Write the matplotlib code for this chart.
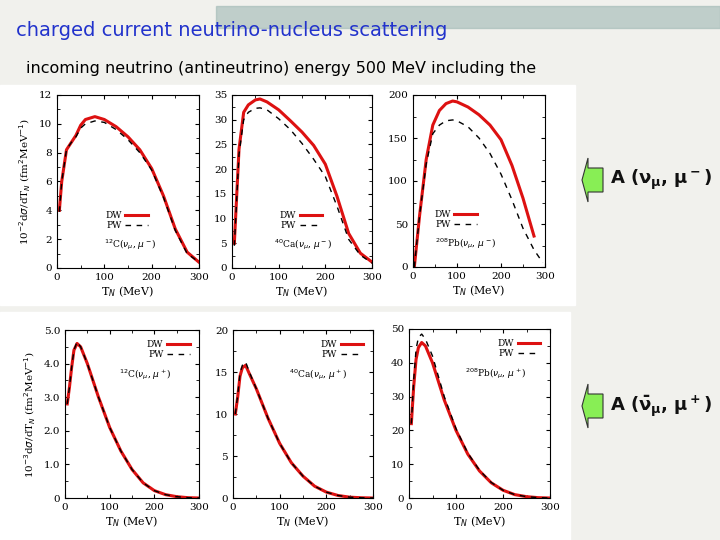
import numpy as np
import matplotlib.pyplot as plt
from matplotlib.patches import Rectangle, Polygon
from matplotlib.ticker import AutoMinorLocator

# ---- data ----
# neutrino (top row)
t_c = [5, 10, 20, 30, 40, 50, 60, 80, 100, 125, 150, 175, 200, 225, 250, 275, 300]
c_dw = [4.0, 6.0, 8.2, 8.7, 9.2, 9.9, 10.3, 10.5, 10.3, 9.8, 9.1, 8.2, 6.9, 5.0, 2.7, 1.1, 0.4]
c_pw = [3.9, 6.0, 8.2, 8.7, 9.1, 9.7, 10.0, 10.2, 10.1, 9.6, 8.9, 8.0, 6.8, 4.9, 2.6, 1.0, 0.4]

t_ca = [5, 15, 25, 35, 50, 60, 75, 100, 125, 150, 175, 200, 225, 250, 275, 300]
ca_dw = [5.0, 24.0, 31.5, 33.0, 34.0, 34.2, 33.6, 32.0, 29.8, 27.5, 24.8, 21.0, 14.5, 7.0, 3.0, 1.2]
ca_pw = [4.5, 23.0, 30.0, 31.5, 32.3, 32.4, 32.0, 30.2, 28.0, 25.2, 22.0, 18.5, 12.5, 5.8, 2.6, 1.0]

t_pb = [3, 15, 30, 45, 60, 75, 90, 100, 125, 150, 175, 200, 225, 250, 275]
pb_dw = [0, 60, 125, 165, 182, 190, 193, 192, 186, 177, 165, 148, 118, 80, 36]
t_pb2 = [3, 15, 30, 45, 60, 75, 90, 100, 125, 150, 175, 200, 225, 250, 275, 295]
pb_pw = [0, 60, 120, 155, 165, 170, 171, 170, 163, 150, 132, 108, 78, 45, 20, 5]

# antineutrino (bottom row)
tb = [5, 10, 15, 20, 27, 35, 50, 75, 100, 125, 150, 175, 200, 225, 250, 275, 300]
cb_dw = [2.8, 3.3, 3.9, 4.4, 4.6, 4.5, 4.0, 3.0, 2.1, 1.4, 0.85, 0.45, 0.22, 0.1, 0.04, 0.01, 0.0]
cb_pw = [2.8, 3.3, 3.9, 4.4, 4.65, 4.5, 4.0, 3.0, 2.1, 1.4, 0.85, 0.45, 0.22, 0.1, 0.04, 0.01, 0.0]
cab_dw = [10.0, 12.0, 14.5, 15.5, 15.8, 14.8, 13.0, 9.5, 6.5, 4.2, 2.6, 1.4, 0.7, 0.3, 0.1, 0.03, 0.0]
cab_pw = [10.0, 12.2, 14.8, 15.8, 16.2, 15.0, 13.0, 9.5, 6.5, 4.2, 2.6, 1.4, 0.7, 0.3, 0.1, 0.03, 0.0]
pbb_dw = [22.0, 33.0, 41.0, 44.5, 46.0, 45.0, 40.0, 29.0, 20.0, 13.0, 8.0, 4.5, 2.3, 1.0, 0.4, 0.1, 0.0]
pbb_pw = [22.0, 35.0, 44.0, 47.5, 48.5, 47.0, 42.0, 30.0, 20.5, 13.3, 8.2, 4.6, 2.3, 1.0, 0.4, 0.1, 0.0]

W, H = 720, 540
fig = plt.figure(figsize=(7.2, 5.4), dpi=100)
fig.patch.set_facecolor('#f1f1ed')

def box(x0, y0, x1, y1):
    return [x0 / W, 1 - y1 / H, (x1 - x0) / W, (y1 - y0) / H]

# header band and white picture areas (behind the axes)
for r in [Rectangle((0.3, 1 - 28 / H), 0.7, 22 / H, color='#9fb8b4', alpha=0.6),
          Rectangle((0, 1 - 305 / H), 575 / W, 220 / H, color='white'),
          Rectangle((0, 0), 570 / W, 1 - 312 / H, color='white')]:
    r.set_transform(fig.transFigure)
    r.set_zorder(-5)
    fig.patches.append(r)

fig.text(16 / W, 1 - 31 / H, 'charged current neutrino-nucleus scattering', color='#2233cc',
         fontsize=14, va='center')
fig.text(26 / W, 1 - 68 / H, 'incoming neutrino (antineutrino) energy 500 MeV including the',
         fontsize=11.5, va='center')

top_leg = ('upper left', (0.3, 0.36))
bot_leg = ('upper right', (0.97, 0.97))
panels = [
    (box(57, 95, 199, 268), t_c, c_dw, t_c, c_pw, (0, 12), [0, 2, 4, 6, 8, 10, 12], None,
     r'$^{12}$C($\nu_\mu$, $\mu^-$)', (0.33, 0.12), top_leg),
    (box(232, 95, 372, 268), t_ca, ca_dw, t_ca, ca_pw, (0, 35), [0, 5, 10, 15, 20, 25, 30, 35], None,
     r'$^{40}$Ca($\nu_\mu$, $\mu^-$)', (0.3, 0.12), top_leg),
    (box(413, 95, 545, 267), t_pb, pb_dw, t_pb2, pb_pw, (0, 200), [0, 50, 100, 150, 200], None,
     r'$^{208}$Pb($\nu_\mu$, $\mu^-$)', (0.17, 0.12), ('upper left', (0.12, 0.36))),
    (box(65, 330, 199, 498), tb, cb_dw, tb, cb_pw, (0, 5), [0, 1, 2, 3, 4, 5],
     ['0', '1.0', '2.0', '3.0', '4.0', '5.0'], r'$^{12}$C($\nu_\mu$, $\mu^+$)', (0.4, 0.72), bot_leg),
    (box(233, 330, 373, 498), tb, cab_dw, tb, cab_pw, (0, 20), [0, 5, 10, 15, 20], None,
     r'$^{40}$Ca($\nu_\mu$, $\mu^+$)', (0.4, 0.72), bot_leg),
    (box(409, 329, 550, 498), tb, pbb_dw, tb, pbb_pw, (0, 50), [0, 10, 20, 30, 40, 50], None,
     r'$^{208}$Pb($\nu_\mu$, $\mu^+$)', (0.4, 0.72), bot_leg),
]

for i, (pos, x1, y1, x2, y2, ylim, yt, ytl, lab, labpos, leg) in enumerate(panels):
    ax = fig.add_axes(pos)
    ax.plot(x1, y1, color='#dd1111', lw=2.2, label='DW')
    ax.plot(x2, y2, color='black', lw=1.0, ls=(0, (4, 4)), label='PW')
    ax.set_xlim(0, 300)
    ax.set_ylim(*ylim)
    ax.set_xticks([0, 100, 200, 300])
    ax.set_yticks(yt)
    if ytl:
        ax.set_yticklabels(ytl)
    ax.xaxis.set_minor_locator(AutoMinorLocator(2))
    ax.yaxis.set_minor_locator(AutoMinorLocator(2))
    ax.tick_params(which='both', direction='in', top=True, right=True, labelsize=7.5, length=3)
    ax.tick_params(which='minor', length=2)
    for lbl in ax.get_xticklabels() + ax.get_yticklabels():
        lbl.set_fontfamily('DejaVu Serif')
    ax.set_xlabel(r'T$_N$ (MeV)', fontsize=8, family='DejaVu Serif', labelpad=2)
    ax.text(labpos[0], labpos[1], lab, transform=ax.transAxes, fontsize=6.5, family='DejaVu Serif')
    ax.legend(loc=leg[0], bbox_to_anchor=leg[1], frameon=False,
              markerfirst=False, handlelength=2.5, borderpad=0.1, labelspacing=0.1,
              handletextpad=0.4, prop={'family': 'DejaVu Serif', 'size': 6.5})
    if i == 0:
        ax.set_ylabel(r'10$^{-2}$d$\sigma$/dT$_N$ (fm$^2$MeV$^{-1}$)', fontsize=7.5, family='DejaVu Serif')
    if i == 3:
        ax.set_ylabel(r'10$^{-3}$d$\sigma$/dT$_N$ (fm$^2$MeV$^{-1}$)', fontsize=7.5, family='DejaVu Serif')

# right-side arrows and reaction labels
for yc, txt in [(180, r'A ($\mathbf{\nu_\mu}$, $\mathbf{\mu^-}$)'),
                (406, r'A ($\mathbf{\bar{\nu}_\mu}$, $\mathbf{\mu^+}$)')]:
    pts = [(582, yc), (588, yc - 22), (588, yc - 12), (603, yc - 12),
           (603, yc + 12), (588, yc + 12), (588, yc + 22)]
    fig.patches.append(Polygon([(px / W, 1 - py / H) for px, py in pts], closed=True,
                               transform=fig.transFigure, facecolor='#88ee55',
                               edgecolor='#333333', lw=0.8))
    fig.text(610 / W, 1 - yc / H, txt, fontsize=13, va='center', weight='bold', color='#111111')

fig.savefig('out.png', dpi=100, facecolor=fig.get_facecolor())
plt.close()
